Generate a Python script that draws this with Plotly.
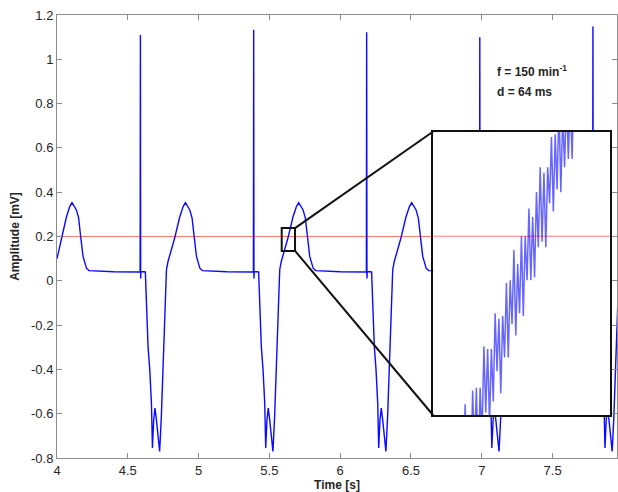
import plotly.graph_objects as go

# ---------------- data ----------------
X_TICKS = [4, 4.5, 5, 5.5, 6, 6.5, 7, 7.5]
X_TICK_LABELS = ["4", "4.5", "5", "5.5", "6", "6.5", "7", "7.5"]
Y_TICKS = [-0.8, -0.6, -0.4, -0.2, 0, 0.2, 0.4, 0.6, 0.8, 1.0, 1.2]
Y_TICK_LABELS = ["-0.8", "-0.6", "-0.4", "-0.2", "0", "0.2", "0.4", "0.6", "0.8", "1", "1.2"]

THRESHOLD_MV = 0.2

time_s = [
    4.000, 4.031, 4.066, 4.090, 4.106, 4.137, 4.153, 4.167, 4.184, 4.208, 4.226, 4.400,
    4.587, 4.589, 4.591, 4.593, 4.624, 4.627, 4.631, 4.643, 4.655, 4.667, 4.674, 4.683,
    4.692, 4.702, 4.713, 4.725, 4.737, 4.749, 4.759, 4.768, 4.773, 4.784, 4.831, 4.866,
    4.891, 4.907, 4.938, 4.954, 4.968, 4.985, 5.009, 5.027, 5.200,
    5.387, 5.389, 5.391, 5.393, 5.424, 5.427, 5.431, 5.443, 5.455, 5.467, 5.474, 5.483,
    5.492, 5.502, 5.513, 5.525, 5.537, 5.549, 5.559, 5.568, 5.573, 5.584, 5.631, 5.666,
    5.691, 5.707, 5.738, 5.754, 5.768, 5.785, 5.809, 5.827, 6.000,
    6.185, 6.187, 6.189, 6.191, 6.222, 6.225, 6.229, 6.241, 6.253, 6.265, 6.272, 6.281,
    6.290, 6.300, 6.311, 6.323, 6.335, 6.347, 6.357, 6.366, 6.371, 6.382, 6.429, 6.464,
    6.489, 6.505, 6.536, 6.552, 6.566, 6.583, 6.607, 6.625, 6.800,
    6.984, 6.986, 6.988, 6.990, 7.021, 7.024, 7.028, 7.040, 7.052, 7.064, 7.071, 7.080,
    7.089, 7.099, 7.110, 7.122, 7.134, 7.146, 7.156, 7.165, 7.170, 7.181, 7.228, 7.263,
    7.288, 7.304, 7.335, 7.351, 7.365, 7.382, 7.406, 7.424, 7.600,
    7.783, 7.785, 7.787, 7.789, 7.820, 7.823, 7.827, 7.839, 7.851, 7.863, 7.870, 7.879,
    7.888, 7.898, 7.909, 7.921, 7.933, 7.945, 7.955, 7.964,
]
amplitude_mV = [
    0.100, 0.193, 0.287, 0.335, 0.353, 0.320, 0.283, 0.200, 0.110, 0.057, 0.046, 0.041,
    0.040, 1.110, 0.010, 0.042, 0.040, 0.005, -0.086, -0.296, -0.400, -0.552, -0.755, -0.627,
    -0.575, -0.627, -0.700, -0.770, -0.612, -0.387, -0.206, -0.041, 0.050, 0.087, 0.193, 0.287,
    0.335, 0.353, 0.320, 0.283, 0.200, 0.110, 0.057, 0.046, 0.041,
    0.040, 1.133, 0.010, 0.042, 0.040, 0.005, -0.086, -0.296, -0.400, -0.552, -0.755, -0.627,
    -0.575, -0.627, -0.700, -0.770, -0.612, -0.387, -0.206, -0.041, 0.050, 0.087, 0.193, 0.287,
    0.335, 0.353, 0.320, 0.283, 0.200, 0.110, 0.057, 0.046, 0.041,
    0.040, 1.122, 0.010, 0.042, 0.040, 0.005, -0.086, -0.296, -0.400, -0.552, -0.755, -0.627,
    -0.575, -0.627, -0.700, -0.770, -0.612, -0.387, -0.206, -0.041, 0.050, 0.087, 0.193, 0.287,
    0.335, 0.353, 0.320, 0.283, 0.200, 0.110, 0.057, 0.046, 0.041,
    0.040, 1.100, 0.010, 0.042, 0.040, 0.005, -0.086, -0.296, -0.400, -0.552, -0.755, -0.627,
    -0.575, -0.627, -0.700, -0.770, -0.612, -0.387, -0.206, -0.041, 0.050, 0.087, 0.193, 0.287,
    0.335, 0.353, 0.320, 0.283, 0.200, 0.110, 0.057, 0.046, 0.041,
    0.040, 1.148, 0.010, 0.042, 0.040, 0.005, -0.086, -0.296, -0.400, -0.552, -0.755, -0.627,
    -0.575, -0.627, -0.700, -0.770, -0.612, -0.387, -0.206, -0.041,
]

# high-resolution samples of the rising edge shown in the zoom inset
inset_time_s = [
    5.598, 5.599, 5.600, 5.601, 5.602, 5.603, 5.604, 5.605, 5.606, 5.607,
    5.608, 5.609, 5.610, 5.611, 5.612, 5.613, 5.614, 5.615, 5.616, 5.617,
    5.618, 5.619, 5.620, 5.621, 5.622, 5.623, 5.624, 5.625, 5.626, 5.627,
    5.628, 5.629, 5.630, 5.631, 5.632, 5.633, 5.634, 5.635, 5.636, 5.637,
    5.638, 5.639, 5.640, 5.641, 5.642, 5.643, 5.644, 5.645, 5.646, 5.647,
    5.648, 5.649, 5.650, 5.651, 5.652, 5.653, 5.654, 5.655, 5.656, 5.657,
    5.658, 5.659, 5.660, 5.661, 5.662, 5.663, 5.664, 5.665, 5.666,
]
inset_amplitude_mV = [
    0.117, 0.098, 0.128, 0.106, 0.129, 0.102, 0.139, 0.117, 0.134, 0.109,
    0.144, 0.122, 0.145, 0.116, 0.145, 0.127, 0.160, 0.136, 0.159, 0.132,
    0.159, 0.140, 0.172, 0.151, 0.170, 0.143, 0.171, 0.156, 0.183, 0.156,
    0.184, 0.168, 0.195, 0.164, 0.190, 0.172, 0.200, 0.171, 0.200, 0.184,
    0.210, 0.184, 0.207, 0.185, 0.216, 0.196, 0.225, 0.198, 0.223, 0.196,
    0.225, 0.212, 0.236, 0.209, 0.237, 0.217, 0.248, 0.216, 0.244, 0.225,
    0.252, 0.228, 0.251, 0.228, 0.258, 0.240, 0.265, 0.242, 0.265,
]

ANNOT_F = "<b>f = 150 min<sup>-1</sup></b>"
ANNOT_D = "<b>d = 64 ms</b>"

# ---------------- layout configuration ----------------
X_RANGE = [4.0, 7.955]
Y_RANGE = [-0.8, 1.2]
INSET_X_RANGE = [5.587, 5.681]
INSET_Y_RANGE = [0.135, 0.238]
INSET_BOX = dict(x0=6.657, x1=7.903, y0=-0.607, y1=0.674)  # in main-axis data units

FONT = "Liberation Sans, Arial, sans-serif"
AX_GRAY = "#8c8c8c"
TXT = "#262626"
BLUE = "rgb(10,10,255)"
RED = "rgb(255,120,120)"
BLACK = "#111111"


def frac(v, rng):
    return (v - rng[0]) / (rng[1] - rng[0])


inset_xdom = [frac(INSET_BOX["x0"], X_RANGE), frac(INSET_BOX["x1"], X_RANGE)]
inset_ydom = [frac(INSET_BOX["y0"], Y_RANGE), frac(INSET_BOX["y1"], Y_RANGE)]

fig = go.Figure()
fig.add_trace(go.Scatter(
    x=time_s, y=amplitude_mV, mode="lines",
    line=dict(color=BLUE, width=1.4), xaxis="x", yaxis="y", hoverinfo="skip",
))
fig.add_trace(go.Scatter(
    x=inset_time_s, y=inset_amplitude_mV, mode="lines",
    line=dict(color="rgba(0,0,255,0.6)", width=1.5), xaxis="x2", yaxis="y2", hoverinfo="skip",
))

axis_common = dict(
    showgrid=False, zeroline=False, showline=True, linecolor=AX_GRAY, linewidth=1,
    mirror="ticks", ticks="inside", ticklen=5, tickcolor=AX_GRAY, tickwidth=1,
    tickfont=dict(family=FONT, size=13, color=TXT),
)

fig.update_layout(
    width=618, height=492,
    margin=dict(l=57, r=1, t=15, b=34),
    paper_bgcolor="white", plot_bgcolor="white",
    showlegend=False, hovermode=False,
    font=dict(family=FONT, color=TXT),
    xaxis=dict(
        range=X_RANGE, tickvals=X_TICKS, ticktext=X_TICK_LABELS, domain=[0, 1],
        title=dict(text="<b>Time [s]</b>", font=dict(family=FONT, size=12, color=TXT), standoff=6),
        **axis_common,
    ),
    yaxis=dict(
        range=Y_RANGE, tickvals=Y_TICKS, ticktext=Y_TICK_LABELS, domain=[0, 1],
        title=dict(text="<b>Amplitude [mV]</b>", font=dict(family=FONT, size=12, color=TXT), standoff=8),
        **axis_common,
    ),
    xaxis2=dict(
        domain=inset_xdom, anchor="y2", range=INSET_X_RANGE,
        showgrid=False, zeroline=False, showticklabels=False, ticks="",
        showline=True, mirror=True, linecolor=BLACK, linewidth=2,
    ),
    yaxis2=dict(
        domain=inset_ydom, anchor="x2", range=INSET_Y_RANGE,
        showgrid=False, zeroline=False, showticklabels=False, ticks="",
        showline=True, mirror=True, linecolor=BLACK, linewidth=2,
    ),
    shapes=[
        dict(type="line", xref="x", yref="y", x0=X_RANGE[0], x1=X_RANGE[1],
             y0=THRESHOLD_MV, y1=THRESHOLD_MV, line=dict(color=RED, width=1), layer="below"),
        dict(type="line", xref="x2", yref="y2", x0=INSET_X_RANGE[0], x1=INSET_X_RANGE[1],
             y0=THRESHOLD_MV, y1=THRESHOLD_MV, line=dict(color=RED, width=1), layer="below"),
        dict(type="rect", xref="x", yref="y", x0=INSET_X_RANGE[0], x1=INSET_X_RANGE[1],
             y0=INSET_Y_RANGE[0], y1=INSET_Y_RANGE[1], line=dict(color=BLACK, width=2), layer="above"),
        dict(type="line", xref="x", yref="y", x0=INSET_X_RANGE[1], y0=INSET_Y_RANGE[1],
             x1=INSET_BOX["x0"], y1=INSET_BOX["y1"], line=dict(color=BLACK, width=2), layer="above"),
        dict(type="line", xref="x", yref="y", x0=INSET_X_RANGE[1], y0=INSET_Y_RANGE[0],
             x1=INSET_BOX["x0"], y1=INSET_BOX["y0"], line=dict(color=BLACK, width=2), layer="above"),
    ],
    annotations=[
        dict(text=ANNOT_F, xref="x", yref="y", x=7.091, y=0.949, xanchor="left", yanchor="middle",
             showarrow=False, font=dict(family=FONT, size=12, color=TXT)),
        dict(text=ANNOT_D, xref="x", yref="y", x=7.091, y=0.854, xanchor="left", yanchor="middle",
             showarrow=False, font=dict(family=FONT, size=12, color=TXT)),
    ],
)

fig.write_html("out.html")
